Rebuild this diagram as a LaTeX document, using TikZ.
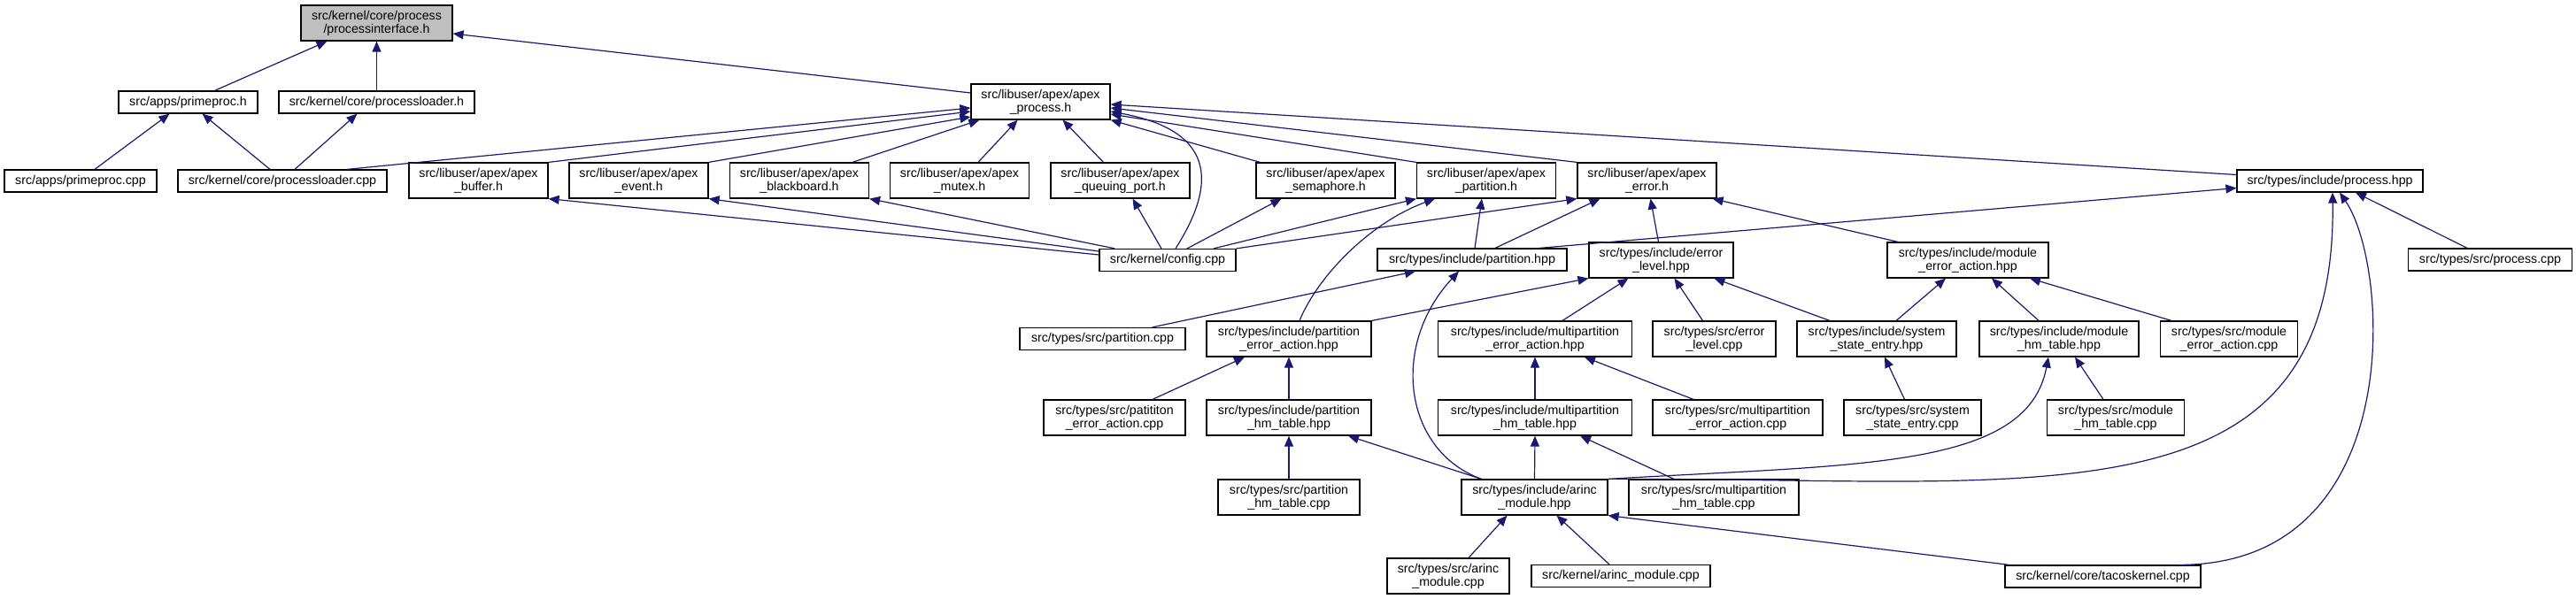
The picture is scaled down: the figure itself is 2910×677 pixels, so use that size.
\documentclass[tikz,border=0pt]{standalone}
\usepackage{fontspec}
\usepackage{tikz}
\usetikzlibrary{arrows.meta}
\newfontfamily\dxfont{Liberation Sans}
\definecolor{dxblue}{RGB}{25,25,112}
\definecolor{dxgray}{RGB}{191,191,191}
\tikzset{
  file/.style={draw=black, line width=1.2pt, fill=white, inner sep=0pt, align=center,
    font=\dxfont\fontsize{14.2pt}{15pt}\selectfont},
  onel/.style={file, minimum height=25pt},
  twol/.style={file, minimum height=40pt},
  root/.style={twol, fill=dxgray},
  dep/.style={draw=dxblue, line width=1.2pt, -{Triangle[length=12pt,width=10pt]}}
}

\begin{document}
\begin{tikzpicture}[x=1pt,y=-1pt]
\useasboundingbox (0,0) rectangle (2910,677);
% files
\node[root, minimum width=171pt] (pif) at (425.5,26) {src/kernel/core/process\\/processinterface.h};
\node[onel, minimum width=157pt] (pph) at (212.5,115.5) {src/apps/primeproc.h};
\node[onel, minimum width=221pt] (plh) at (425.5,115.5) {src/kernel/core/processloader.h};
\node[twol, minimum width=157pt] (apx) at (1175.5,115) {src/libuser/apex/apex\\\_process.h};
\node[onel, minimum width=210pt] (prh) at (2632,204.5) {src/types/include/process.hpp};
\node[onel, minimum width=172pt] (ppc) at (91,204.5) {src/apps/primeproc.cpp};
\node[onel, minimum width=236pt] (plc) at (319,204.5) {src/kernel/core/processloader.cpp};
\node[twol, minimum width=157pt] (buf) at (540.5,204) {src/libuser/apex/apex\\\_buffer.h};
\node[twol, minimum width=157pt] (evt) at (721.5,204) {src/libuser/apex/apex\\\_event.h};
\node[twol, minimum width=157pt] (bb) at (903,204) {src/libuser/apex/apex\\\_blackboard.h};
\node[twol, minimum width=157pt] (mtx) at (1084,204) {src/libuser/apex/apex\\\_mutex.h};
\node[twol, minimum width=157pt] (qp) at (1265.5,204) {src/libuser/apex/apex\\\_queuing\_port.h};
\node[twol, minimum width=157pt] (sem) at (1497.5,204) {src/libuser/apex/apex\\\_semaphore.h};
\node[twol, minimum width=157pt] (pth) at (1679,204) {src/libuser/apex/apex\\\_partition.h};
\node[twol, minimum width=157pt] (erh) at (1860.5,204) {src/libuser/apex/apex\\\_error.h};
\node[onel, minimum width=154pt] (cfg) at (1319,294) {src/kernel/config.cpp};
\node[onel, minimum width=214pt] (pthpp) at (1663,293.5) {src/types/include/partition.hpp};
\node[twol, minimum width=163pt] (elh) at (1876.5,294) {src/types/include/error\\\_level.hpp};
\node[twol, minimum width=182pt] (meah) at (2223,294) {src/types/include/module\\\_error\_action.hpp};
\node[onel, minimum width=185pt] (prc) at (2813,293.5) {src/types/src/process.cpp};
\node[onel, minimum width=187pt] (ptc) at (1245.5,383) {src/types/src/partition.cpp};
\node[twol, minimum width=186pt] (peah) at (1456,383) {src/types/include/partition\\\_error\_action.hpp};
\node[twol, minimum width=219pt] (mpeah) at (1734,383) {src/types/include/multipartition\\\_error\_action.hpp};
\node[twol, minimum width=139pt] (elc) at (1936.5,383) {src/types/src/error\\\_level.cpp};
\node[twol, minimum width=180pt] (sseh) at (2120,383) {src/types/include/system\\\_state\_entry.hpp};
\node[twol, minimum width=180pt] (mhth) at (2326,383) {src/types/include/module\\\_hm\_table.hpp};
\node[twol, minimum width=155pt] (meac) at (2518,383) {src/types/src/module\\\_error\_action.cpp};
\node[twol, minimum width=160pt] (peac) at (1259,472) {src/types/src/patititon\\\_error\_action.cpp};
\node[twol, minimum width=186pt] (phth) at (1456,472) {src/types/include/partition\\\_hm\_table.hpp};
\node[twol, minimum width=219pt] (mphth) at (1734,472) {src/types/include/multipartition\\\_hm\_table.hpp};
\node[twol, minimum width=192pt] (mpeac) at (1963,472) {src/types/src/multipartition\\\_error\_action.cpp};
\node[twol, minimum width=155pt] (ssec) at (2160.5,472) {src/types/src/system\\\_state\_entry.cpp};
\node[twol, minimum width=155pt] (mhtc) at (2390,472) {src/types/src/module\\\_hm\_table.cpp};
\node[twol, minimum width=160pt] (phtc) at (1456,562) {src/types/src/partition\\\_hm\_table.cpp};
\node[twol, minimum width=165pt] (arh) at (1733.5,562) {src/types/include/arinc\\\_module.hpp};
\node[twol, minimum width=192pt] (mphtc) at (1936,562) {src/types/src/multipartition\\\_hm\_table.cpp};
\node[twol, minimum width=138pt] (arc) at (1636,651) {src/types/src/arinc\\\_module.cpp};
\node[onel, minimum width=202pt] (karc) at (1831,651) {src/kernel/arinc\_module.cpp};
\node[onel, minimum width=221pt] (tk) at (2375.5,651.5) {src/kernel/core/tacoskernel.cpp};
% includes
\draw[dep] ([xshift=30pt]pph.north) -- ([xshift=-56pt]pif.south);
\draw[dep] (plh.north) -- (pif.south);
\draw[dep] ([yshift=10pt]apx.west) -- ([yshift=-12pt]pif.east);
\draw[dep] ([xshift=16pt]ppc.north) -- ([xshift=-21pt]pph.south);
\draw[dep] ([xshift=-14pt]plc.north) -- ([xshift=16pt]pph.south);
\draw[dep] ([xshift=14pt]plc.north) -- ([xshift=-22pt]plh.south);
\draw[dep] ([xshift=73pt]plc.north) -- ([yshift=-7pt]apx.west);
\draw[dep] (buf.north east) -- ([yshift=-11pt]apx.west);
\draw[dep] (evt.north east) -- ([yshift=-17pt]apx.west);
\draw[dep] ([xshift=60pt]bb.north) -- ([xshift=10pt]apx.south west);
\draw[dep] ([xshift=21pt]mtx.north) -- ([xshift=-26pt]apx.south);
\draw[dep] ([xshift=-19pt]qp.north) -- ([xshift=25pt]apx.south);
\draw[dep] ([xshift=9pt]cfg.north) .. controls +(42,-66) and +(126,23) .. ([yshift=-11pt]apx.east);
\draw[dep] ([xshift=5pt]sem.north west) -- (apx.south east);
\draw[dep] (pth.north west) -- ([yshift=-14pt]apx.east);
\draw[dep] (erh.north west) -- ([yshift=-7pt]apx.east);
\draw[dep] ([yshift=7pt]prh.west) -- ([yshift=-3pt]apx.east);
\draw[dep] ([yshift=6pt]cfg.west) -- (buf.south east);
\draw[dep] ([yshift=10pt]cfg.west) -- (evt.south east);
\draw[dep] ([xshift=18pt]cfg.north west) -- (bb.south east);
\draw[dep] ([xshift=-7pt]cfg.north) -- ([xshift=14pt]qp.south);
\draw[dep] ([xshift=22pt]cfg.north) -- ([xshift=-50pt]sem.south);
\draw[dep] ([xshift=52pt]cfg.north) -- (pth.south west);
\draw[dep] (cfg.north east) -- (erh.south west);
\draw[dep] ([xshift=3pt]pthpp.north) -- ([xshift=-5pt]pth.south);
\draw[dep] ([xshift=26pt]pthpp.north) -- ([xshift=-53pt]erh.south);
\draw[dep] ([xshift=12pt]peah.north) .. controls +(22,-53) and +(-71,26) .. ([xshift=-58pt]pth.south);
\draw[dep] ([xshift=-3pt]elh.north) -- ([xshift=4pt]erh.south);
\draw[dep] ([xshift=-79pt]meah.north) -- ([xshift=-5pt]erh.south east);
\draw[dep] ([xshift=76pt]pthpp.north) -- ([yshift=-8pt]prh.west);
\draw[dep] ([xshift=56pt]ptc.north) -- ([xshift=-64pt]pthpp.south);
\draw[dep] (peah.north east) -- (elh.south west);
\draw[dep] ([xshift=-60pt]arh.north) .. controls +(-88,-32) and +(-78,84) .. ([xshift=-15pt]pthpp.south);
\draw[dep] ([xshift=31pt]mpeah.north) -- ([xshift=-37pt]elh.south);
\draw[dep] ([xshift=-13pt]elc.north) -- ([xshift=15pt]elh.south);
\draw[dep] ([xshift=-53pt]sseh.north) -- ([xshift=60pt]elh.south);
\draw[dep] ([xshift=22pt]sseh.north) -- ([xshift=-25pt]meah.south);
\draw[dep] ([xshift=-23pt]mhth.north) -- ([xshift=27pt]meah.south);
\draw[dep] ([xshift=-65pt]meac.north) -- ([xshift=70pt]meah.south);
\draw[dep] ([xshift=43pt]peac.north) -- ([xshift=-50pt]peah.south);
\draw[dep] (phth.north) -- (peah.south);
\draw[dep] (mphth.north) -- (mpeah.south);
\draw[dep] ([xshift=-50pt]mpeac.north) -- ([xshift=56pt]mpeah.south);
\draw[dep] ([xshift=-9pt]ssec.north) -- ([xshift=9pt]sseh.south);
\draw[dep] (arh.north east) .. controls +(284,-17) and +(-24,127) .. ([xshift=-12pt]mhth.south);
\draw[dep] ([xshift=-14pt]mhtc.north) -- ([xshift=18pt]mhth.south);
\draw[dep] (phtc.north) -- (phth.south);
\draw[dep] ([xshift=-60pt]arh.north) -- ([xshift=67pt]phth.south);
\draw[dep] (arh.north) -- (mphth.south);
\draw[dep] ([xshift=-45pt]mphtc.north) -- ([xshift=51pt]mphth.south);
\draw[dep] (arh.north east) .. controls +(484,-2) and +(5,383) .. ([xshift=3pt]prh.south);
\draw[dep] ([xshift=-26pt]tk.north east) .. controls +(260,1) and +(57,83) .. ([xshift=11pt]prh.south);
\draw[dep] ([xshift=5pt]tk.north west) -- (arh.south east);
\draw[dep] ([xshift=23pt]arc.north) -- ([xshift=-31pt]arh.south);
\draw[dep] ([xshift=-13pt]karc.north) -- ([xshift=25pt]arh.south);
\draw[dep] ([xshift=-26pt]prc.north) -- ([xshift=29pt]prh.south);
\end{tikzpicture}
\end{document}
